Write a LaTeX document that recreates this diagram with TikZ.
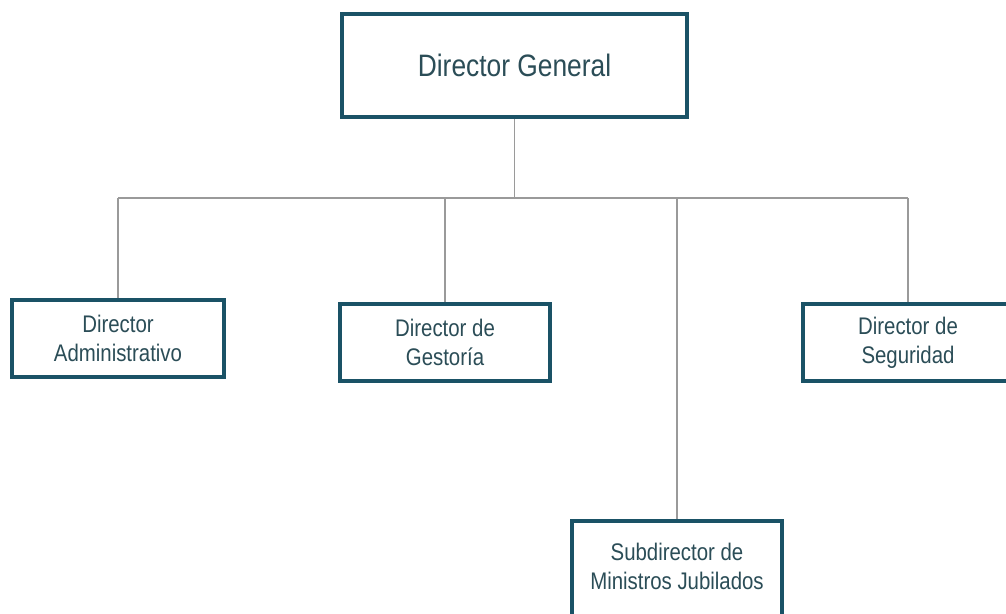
\documentclass[tikz,border=0pt]{standalone}
\usepackage{fontspec}
\setmainfont{Liberation Sans}[FakeStretch=0.85]
\definecolor{boxline}{HTML}{1A5266}
\definecolor{txt}{HTML}{2B4D57}
\definecolor{conn}{HTML}{9A9A9A}
\begin{document}
\begin{tikzpicture}[x=1pt,y=-1pt,
  box/.style={draw=boxline, line width=4pt, fill=white, rectangle, inner sep=0pt,
    text=txt, align=center, font=\fontsize{24}{29}\selectfont},
  bigbox/.style={box, font=\fontsize{31}{37}\selectfont},
  conn/.style={draw=conn, line width=1.3pt}]
\useasboundingbox (0,0) rectangle (1006,613);
\clip (0,0) rectangle (1006,613);
\fill[white] (0,0) rectangle (1006,613);
\node[bigbox, minimum width=345pt, minimum height=103pt] (dg) at (514.5,65.5) {Director General};
\node[box, minimum width=212pt, minimum height=77pt] (adm) at (118,338.5) {Director\\Administrativo};
\node[box, minimum width=210pt, minimum height=77pt] (ges) at (445,342.5) {Director de\\Gestoría};
\node[box, minimum width=210pt, minimum height=77pt] (seg) at (908,342.5) {Director de\\Seguridad};
\node[box, minimum width=210pt, minimum height=110pt] (sub) at (677,576) {};
\node[text=txt, align=center, font=\fontsize{24}{29}\selectfont] (subt) at (677,566) {Subdirector de\\Ministros Jubilados};
\coordinate (bus) at (514.5,198);
\draw[conn] (dg.south) -- (bus);
\draw[conn] (adm.north |- bus) -- (seg.north |- bus);
\draw[conn] (adm.north |- bus) -- (adm.north);
\draw[conn] (ges.north |- bus) -- (ges.north);
\draw[conn] (seg.north |- bus) -- (seg.north);
\draw[conn] (sub.north |- bus) -- (sub.north);
\end{tikzpicture}
\end{document}
